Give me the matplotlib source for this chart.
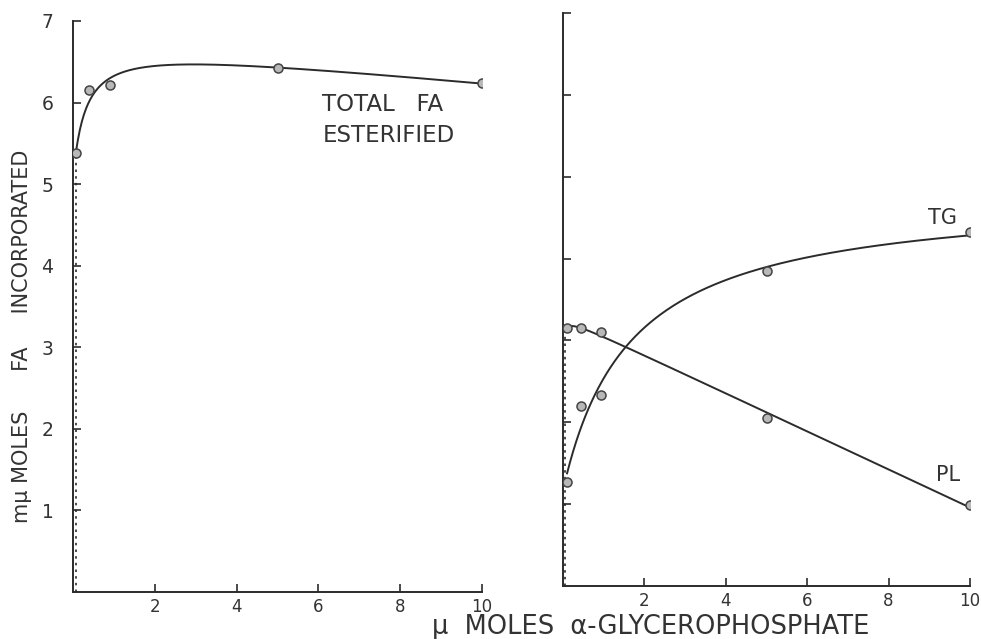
import numpy as np
import matplotlib
matplotlib.use("Agg")
import matplotlib.pyplot as plt

# --- data -------------------------------------------------------------
dose_left = [0.07, 0.4, 0.9, 5.0, 10.0]
total_fa = [5.38, 6.15, 6.21, 6.42, 6.24]

dose_right = [0.1, 0.45, 0.93, 5.0, 10.0]
tg = [1.27, 2.2, 2.33, 3.85, 4.33]
pl = [3.15, 3.15, 3.1, 2.05, 0.99]

x_ticks = [2, 4, 6, 8, 10]
y_ticks = [1, 2, 3, 4, 5, 6, 7]

INK = "#2b2b2b"
TXT = "#333333"
FONT = "DejaVu Sans"


def fit_saturation(x, y, linear_term, k_min=0.05, weights=None):
    """Weighted least-squares fit of y = a + b*x/(K+x) (+ c*x), scanning K."""
    x = np.asarray(x, float)
    y = np.asarray(y, float)
    w = np.ones_like(x) if weights is None else np.asarray(weights, float)
    best = None
    for K in np.linspace(k_min, 8.0, 800):
        cols = [np.ones_like(x), x / (K + x)]
        if linear_term:
            cols.append(x)
        A = np.column_stack(cols)
        coef, *_ = np.linalg.lstsq(A * w[:, None], y * w, rcond=None)
        r = np.sum((w * (A @ coef - y)) ** 2)
        if best is None or r < best[0]:
            best = (r, K, coef)
    _, K, coef = best

    def f(t):
        t = np.asarray(t, float)
        out = coef[0] + coef[1] * t / (K + t)
        if linear_term:
            out = out + coef[2] * t
        return out
    return f


def style_axes(ax, labels):
    ax.set_xlim(0, 10)
    ax.set_ylim(0, 7)
    for s in ("top", "right"):
        ax.spines[s].set_visible(False)
    for s in ("left", "bottom"):
        ax.spines[s].set_color(INK)
        ax.spines[s].set_linewidth(1.4)
    ax.set_xticks(x_ticks)
    ax.set_xticklabels([str(v) for v in x_ticks], fontsize=12,
                       color=TXT, family=FONT)
    ax.set_yticks(y_ticks)
    if labels:
        ax.set_yticklabels([str(v) for v in y_ticks], fontsize=13.5,
                           color=TXT, family=FONT)
    else:
        ax.set_yticklabels([])
    ax.tick_params(axis="both", direction="in", length=6, width=1.2,
                   color=INK)
    ax.tick_params(axis="x", pad=4)
    ax.tick_params(axis="y", pad=14)
    ax.set_facecolor("white")


fig = plt.figure(figsize=(9.81, 6.39), dpi=100)
fig.patch.set_facecolor("white")

W, H = 981.0, 639.0
ax1 = fig.add_axes([73 / W, 1 - 592 / H, (482 - 73) / W, (592 - 21) / H])
ax2 = fig.add_axes([563 / W, 1 - 586 / H, (970 - 563) / W, (586 - 13) / H])

mk = dict(marker="o", markersize=6.5, markerfacecolor="#b8b8b8",
          markeredgecolor="#444444", markeredgewidth=1.1, linestyle="none",
          zorder=4)
dots = dict(color=INK, lw=1.2, linestyle=(0, (1.5, 2.5)), zorder=2)

# --- left panel: total fatty acid esterified --------------------------
style_axes(ax1, True)
f_tot = fit_saturation(dose_left, total_fa, linear_term=True, k_min=0.3,
                       weights=[6, 1, 1, 1, 1])
xs = np.linspace(dose_left[0], dose_left[-1], 400)
ax1.plot(xs, f_tot(xs), color=INK, lw=1.4, zorder=3)
ax1.plot(dose_left, total_fa, **mk)
ax1.plot([dose_left[0], dose_left[0]], [0, total_fa[0]], **dots)
ax1.text(6.1, 5.98, "TOTAL   FA", fontsize=16.5, color=TXT, family=FONT,
         va="center", ha="left")
ax1.text(6.1, 5.60, "ESTERIFIED", fontsize=16.5, color=TXT, family=FONT,
         va="center", ha="left")

# --- right panel: triglyceride and phospholipid ------------------------
style_axes(ax2, False)
f_tg = fit_saturation(dose_right, tg, linear_term=False)
f_pl = fit_saturation(dose_right, pl, linear_term=True)
xs = np.linspace(dose_right[0], dose_right[-1], 400)
ax2.plot(xs, f_tg(xs), color=INK, lw=1.4, zorder=3)
ax2.plot(xs, f_pl(xs), color=INK, lw=1.4, zorder=3)
ax2.plot(dose_right, tg, **mk)
ax2.plot(dose_right, pl, **mk)
ax2.plot([dose_right[0] - 0.05] * 2, [0, pl[0]], **dots)
ax2.text(9.32, 4.5, "TG", fontsize=15, color=TXT, family=FONT,
         va="center", ha="center")
ax2.text(9.46, 1.35, "PL", fontsize=15, color=TXT, family=FONT,
         va="center", ha="center")

# --- axis titles -------------------------------------------------------
fig.text(22 / W, 1 - 336 / H, "mμ MOLES      FA     INCORPORATED",
         rotation=90, fontsize=15, color=TXT, family=FONT,
         ha="center", va="center")
fig.text(651 / W, 1 - 634 / H, "μ  MOLES  α-GLYCEROPHOSPHATE",
         fontsize=18.5, color=TXT, family=FONT, ha="center", va="baseline")

fig.savefig("out.png", dpi=100, facecolor="white")
